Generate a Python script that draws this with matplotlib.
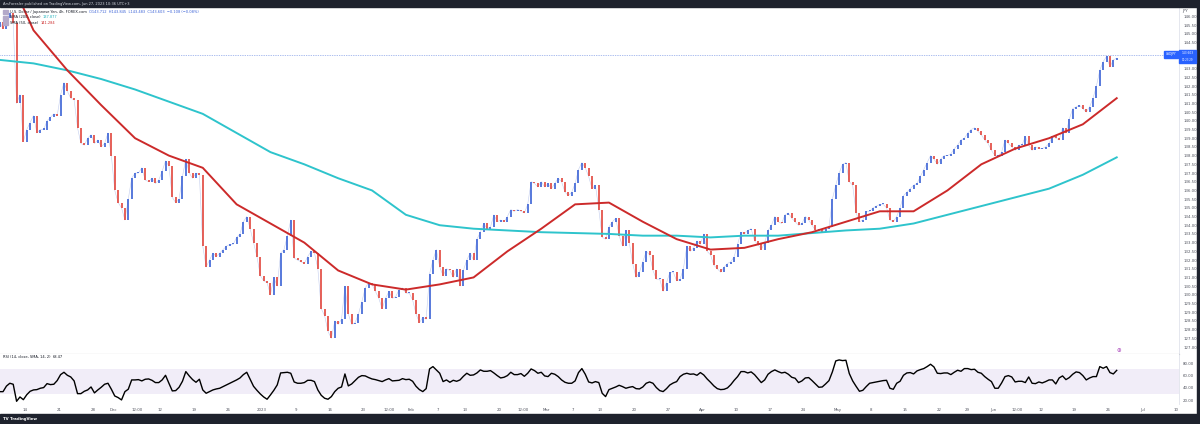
import numpy as np
import matplotlib
matplotlib.use("Agg")
import matplotlib.pyplot as plt
from matplotlib.patches import Rectangle

# USDJPY 4h, Nov 2022 - Jun 2023 at half-day steps
# (two values per trading day, first day = Nov 8 2022)
closes = [
    145.7, 145.3, 145.9, 146.2, 145.6, 141.0, 141.5, 138.8,
    139.5, 139.9, 140.3, 139.3, 139.5, 139.5, 140.0, 140.2, 140.4, 140.3,
    141.5, 142.2, 141.7, 141.3, 141.2, 139.6, 138.7, 138.6, 139.0, 139.2,
    138.7, 138.9, 138.5, 138.7, 139.3, 138.0, 136.0, 135.3, 135.0, 134.3,
    135.5, 136.7, 137.0, 137.0, 137.3, 136.6, 136.5, 136.7, 136.4, 136.6,
    137.1, 137.7, 137.4, 135.6, 135.3, 135.5, 136.8, 137.8, 137.0, 136.7,
    137.0, 136.9, 132.8, 131.6, 132.0, 132.4, 132.2, 132.4, 132.6, 132.8,
    132.9, 132.9, 133.3, 133.5, 134.2, 134.5, 133.8, 133.0, 132.2, 131.1,
    130.8, 130.7, 130.0, 131.0, 130.5, 132.4, 132.6, 133.4, 134.3, 132.1,
    132.0, 131.9, 131.8, 132.2, 132.5, 132.4, 131.5, 129.2, 128.8, 127.9,
    127.5, 128.5, 128.3, 128.6, 130.5, 128.9, 128.3, 128.4, 128.9, 129.6,
    130.4, 130.7, 130.6, 130.2, 129.8, 129.2, 129.8, 130.2, 129.8, 129.9,
    130.3, 130.4, 130.1, 130.1, 129.7, 128.9, 128.4, 128.7, 128.6, 131.2,
    132.0, 132.6, 131.6, 131.1, 131.5, 131.4, 131.0, 131.5, 130.5, 131.4,
    132.0, 132.4, 132.0, 133.2, 133.6, 134.1, 133.8, 133.9, 134.6, 134.2,
    134.3, 134.2, 134.5, 134.9, 134.8, 134.9, 134.8, 134.7, 135.2, 136.5,
    136.4, 136.2, 136.5, 136.2, 136.4, 136.1, 136.4, 136.7, 136.5, 135.9,
    135.7, 135.9, 136.4, 137.2, 137.6, 137.3, 136.8, 136.1, 136.3, 134.9,
    133.3, 133.2, 133.9, 134.2, 134.4, 133.4, 132.8, 133.7, 133.0, 131.8,
    131.0, 131.3, 131.9, 132.5, 132.3, 131.4, 130.9, 130.9, 130.2, 130.7,
    131.3, 131.3, 130.8, 130.9, 131.5, 132.8, 132.5, 132.7, 133.1, 132.9,
    133.5, 132.5, 132.3, 131.7, 131.5, 131.3, 131.6, 131.8, 131.9, 132.2,
    132.9, 133.6, 133.5, 133.7, 133.8, 133.1, 132.9, 132.6, 133.0, 133.7,
    134.0, 134.5, 134.2, 134.1, 134.6, 134.7, 134.4, 134.2, 134.0, 134.1,
    134.5, 134.3, 134.0, 133.7, 133.7, 133.6, 133.8, 133.9, 135.5, 136.3,
    137.0, 137.5, 137.6, 136.5, 136.3, 134.7, 134.2, 134.3, 134.8, 134.8,
    135.0, 135.1, 135.2, 135.2, 135.0, 134.3, 134.2, 134.5, 135.0, 135.7,
    135.9, 136.1, 136.3, 136.4, 136.8, 137.2, 137.6, 138.0, 137.8, 137.5,
    137.8, 138.0, 138.0, 138.1, 138.4, 138.6, 138.9, 139.0, 139.3, 139.5,
    139.6, 139.4, 139.2, 138.9, 138.7, 138.3, 138.0, 138.0, 138.2, 138.9,
    138.7, 138.5, 138.3, 138.6, 138.6, 139.1, 138.6, 138.3, 138.5, 138.4,
    138.4, 138.5, 138.7, 139.1, 139.0, 138.9, 139.6, 139.3, 140.1, 140.7,
    140.8, 140.9, 140.7, 140.5, 140.8, 141.3, 142.0, 142.9, 143.4, 143.7,
    143.1, 143.5, 143.6,
]
first_open = 145.4

rsi = [
    34.0, 34.0, 43.0, 47.6, 46.0, 18.4, 25.4, 21.0, 29.0, 34.6, 36.8, 37.3,
    39.5, 40.6, 47.0, 45.4, 46.0, 52.0, 61.6, 65.4, 60.5, 57.8, 51.4, 30.8,
    30.8, 34.6, 36.8, 41.6, 32.0, 36.8, 41.1, 46.0, 47.6, 37.9, 27.0, 24.4,
    20.6, 34.0, 38.0, 53.0, 53.0, 53.5, 51.4, 54.1, 54.6, 52.4, 48.7, 48.7,
    53.0, 60.5, 47.6, 35.2, 35.7, 41.1, 50.8, 66.5, 59.5, 53.5, 49.2, 54.1,
    36.8, 31.4, 34.1, 36.8, 38.4, 39.5, 42.2, 44.9, 47.6, 50.3, 53.0, 56.2,
    61.6, 65.4, 54.1, 42.7, 36.2, 30.3, 25.4, 21.7, 28.7, 36.2, 44.9, 64.3,
    64.9, 65.4, 63.8, 49.7, 47.6, 47.6, 48.7, 52.4, 52.4, 50.3, 36.8, 28.1,
    23.3, 21.7, 26.0, 34.1, 39.5, 41.6, 62.7, 43.3, 46.5, 51.9, 57.3, 60.0,
    59.5, 56.8, 54.6, 53.5, 51.9, 50.3, 53.0, 55.1, 51.4, 51.9, 52.4, 55.1,
    53.5, 54.1, 50.8, 42.7, 37.3, 34.1, 38.9, 70.8, 74.6, 69.2, 63.8, 50.3,
    53.0, 49.2, 52.4, 50.8, 53.0, 58.9, 63.8, 60.5, 61.1, 64.3, 69.2, 67.0,
    67.0, 68.1, 64.3, 60.0, 56.2, 57.3, 60.0, 65.4, 61.6, 61.6, 63.3, 58.9,
    63.8, 70.8, 68.1, 63.8, 65.4, 59.5, 58.4, 63.8, 62.2, 58.4, 53.0, 49.2,
    47.6, 47.6, 51.4, 64.9, 71.4, 62.2, 49.7, 48.1, 50.3, 48.7, 31.4, 26.0,
    37.3, 39.5, 41.6, 44.3, 42.2, 39.5, 41.1, 42.2, 38.9, 38.4, 41.6, 47.6,
    49.7, 47.6, 40.6, 35.7, 34.1, 38.9, 44.9, 48.1, 50.3, 58.4, 62.2, 63.8,
    62.2, 62.7, 60.5, 64.9, 61.1, 54.6, 49.2, 43.3, 38.9, 37.3, 37.8, 40.0,
    45.4, 52.4, 58.4, 66.5, 66.5, 64.3, 66.0, 61.6, 55.1, 48.7, 53.0, 62.2,
    66.5, 69.2, 66.5, 64.3, 65.4, 62.2, 57.3, 55.7, 48.7, 51.4, 56.2, 56.8,
    51.9, 46.5, 41.1, 41.6, 46.5, 51.9, 66.0, 83.8, 85.4, 84.3, 84.9, 63.3,
    51.4, 42.7, 34.6, 36.2, 42.2, 47.6, 48.7, 49.7, 50.8, 51.9, 52.4, 39.5,
    37.8, 47.6, 50.8, 60.5, 64.3, 64.9, 62.7, 67.6, 69.7, 71.4, 74.6, 78.4,
    74.1, 63.8, 63.3, 64.3, 64.3, 61.6, 65.4, 68.7, 67.0, 71.4, 71.4, 69.7,
    70.3, 65.4, 63.8, 58.4, 54.1, 50.3, 39.5, 39.5, 48.1, 58.4, 60.0, 57.8,
    49.7, 50.8, 50.8, 48.7, 57.8, 47.6, 47.0, 49.7, 48.1, 50.3, 53.0, 53.0,
    46.5, 56.2, 59.5, 53.5, 56.8, 62.2, 66.0, 64.9, 60.0, 53.0, 56.2, 58.4,
    58.4, 74.6, 71.9, 74.6, 64.9, 62.7, 68.5,
]

# moving averages read every 5 trading days (10 half-day steps)
ma_step = 10
sma50 = [149.5, 145.2, 142.9, 140.9, 139.0, 138.0, 137.3, 135.2, 134.1, 133.0,
         131.4, 130.6, 130.3, 130.6, 131.0, 132.5, 133.8, 135.2, 135.3, 134.2,
         133.2, 132.6, 132.7, 133.2, 133.6, 134.2, 134.8, 134.8, 136.0, 137.5,
         138.4, 139.0, 139.8, 141.3]
sma200 = [143.5, 143.3, 142.9, 142.4, 141.8, 141.1, 140.4, 139.3, 138.2, 137.5,
          136.7, 136.0, 134.6, 134.0, 133.8, 133.7, 133.6, 133.55, 133.5, 133.4,
          133.4, 133.3, 133.4, 133.4, 133.55, 133.7, 133.8, 134.1, 134.6, 135.1,
          135.6, 136.1, 136.9, 137.9]

# date axis: label text and trading-day number (0 = Mon Nov 14 2022)
date_labels = ["14", "21", "28", "Dec", "12:00", "12", "19", "26", "2023", "9",
               "16", "23", "12:00", "Feb", "7", "13", "20", "12:00", "Mar", "7",
               "13", "20", "27", "Apr", "10", "17", "24", "May", "8", "15", "22",
               "29", "Jun", "12:00", "12", "19", "26", "Jul", "10"]
date_days = [0, 5, 10, 13, 16.5, 20, 25, 30, 35, 40, 45, 50, 53.8, 57, 61, 65,
             70, 73.6, 77, 81, 85, 90, 95, 100, 105, 110, 115, 120, 125, 130,
             135, 139.2, 143, 146.5, 150, 155, 160, 165, 170]

# price scale labels (144.000 and 143.500 sit under the last-price box)
price_ticks = [p for p in np.arange(127.0, 146.01, 0.5) if p not in (143.5, 144.0)]
rsi_ticks = [20, 40, 60, 80]

W, H = 1200, 424
DARK = "#1e222d"
BLUE = "#3b62d6"
RED = "#e2453c"
TXT = "#131722"
FS = 2.6

fig = plt.figure(figsize=(W / 100, H / 100), dpi=100)
fig.patch.set_facecolor("white")


def fx(px):
    return px / W


def fy(py):
    return 1 - py / H


ax = fig.add_axes([0, fy(354), fx(1179), 347 / H])
ax_r = fig.add_axes([0, fy(404), fx(1179), 50 / H], sharex=ax)

k = np.arange(len(closes))
c = np.array(closes)
o = np.concatenate([[first_open], c[:-1]])
up = c >= o
lo = np.minimum(o, c)
hi = np.maximum(np.maximum(o, c), lo + 0.06)
col = np.where(up, BLUE, RED)
# faint path between candles, stands in for the wicks
ax.plot(k, c, color="#a9b8e6", lw=0.4, alpha=0.7, zorder=1)
ax.vlines(k, lo, hi, colors=col, lw=1.2, zorder=2)

km = np.arange(len(sma50)) * ma_step
ax.plot(km, sma200, color="#2ec4cc", lw=1.4, zorder=3)
ax.plot(km, sma50, color="#cc2a2a", lw=1.4, zorder=3)

ax.axhline(c[-1] + 0.2, color="#5b7fe0", lw=0.5, ls=(0, (1, 1.5)), zorder=1)

ax.set_xlim(0.1, 1179 / 3.385 + 0.1)
ax.set_ylim(126.6, 146.54)
ax.yaxis.tick_right()
ax.set_yticks(price_ticks)
ax.set_yticklabels([f"{p:.3f}" for p in price_ticks])
ax.tick_params(axis="y", length=0, labelsize=2.8, labelcolor="#50535e", pad=3)
ax.tick_params(axis="x", length=0, labelbottom=False)
for s in ["top", "left"]:
    ax.spines[s].set_visible(False)
ax.spines["right"].set_color("#e0e3eb")
ax.spines["right"].set_linewidth(0.6)
ax.spines["bottom"].set_color("#9598a1")
ax.spines["bottom"].set_linewidth(0.8)

# RSI pane
ax_r.axhspan(30, 70, color="#7e57c2", alpha=0.1, lw=0)
ax_r.plot(k, rsi, color="black", lw=1.0)
ax_r.set_ylim(14, 95)
ax_r.yaxis.tick_right()
ax_r.set_yticks(rsi_ticks)
ax_r.set_yticklabels([f"{v:.2f}" for v in rsi_ticks])
ax_r.tick_params(axis="y", length=0, labelsize=2.8, labelcolor="#50535e", pad=3)
ax_r.set_xticks([2 * (d + 4) - 0.5 for d in date_days])
ax_r.set_xticklabels(date_labels)
ax_r.tick_params(axis="x", length=0, labelsize=2.8, labelcolor="#50535e", pad=3)
for s in ["top", "left", "bottom"]:
    ax_r.spines[s].set_visible(False)
ax_r.spines["right"].set_color("#e0e3eb")
ax_r.spines["right"].set_linewidth(0.6)

# frame: top and bottom dark bars, right border
fig.add_artist(Rectangle((0, fy(7)), 1, 7 / H, transform=fig.transFigure,
                         color=DARK, zorder=10))
fig.add_artist(Rectangle((0, 0), 1, 10 / H, transform=fig.transFigure,
                         color=DARK, zorder=10))
fig.add_artist(Rectangle((fx(1197), 0), 3 / W, 1, transform=fig.transFigure,
                         color=DARK, zorder=10))
fig.text(fx(3), fy(3.8), "ArsForesler published on TradingView.com, Jun 27, 2023 10:36 UTC+3",
         fontsize=FS, color="#d1d4dc", va="center", zorder=11)
fig.text(fx(3), fy(419), "TV TradingView", fontsize=2.8, color="white",
         va="center", weight="bold", zorder=11)


def label_value(host, x, y, label, value, vcolor):
    t = fig.text(fx(x), fy(y), label, fontsize=FS, color=TXT, va="center", zorder=11)
    host.annotate(value, xy=(1, 0.5), xycoords=t, xytext=(1.5, 0),
                  textcoords="offset points", fontsize=FS, color=vcolor,
                  va="center", annotation_clip=False, zorder=11)


# legend text top-left
label_value(ax, 10, 12, "U.S. Dollar / Japanese Yen, 4h, FOREX.com",
            "O143.712  H143.845  L143.483  C143.603  \u22120.108 (\u22120.08%)", BLUE)
label_value(ax, 10, 17.5, "SMA (200, close)", "137.877", "#22b3bd")
label_value(ax, 10, 23, "SMA (50, close)", "141.284", "#cc2a2a")
for yy in (12, 17.5, 23):
    fig.add_artist(Rectangle((fx(3), fy(yy + 2)), 5 / W, 4 / H, transform=fig.transFigure,
                             color="#b3a9c9", zorder=11))
label_value(ax_r, 3, 357.5, "RSI (14, close, SMA, 14, 2)", "68.47", TXT)

# axis unit and last-price boxes
fig.text(fx(1182), fy(11), "JPY", fontsize=2.8, color="#50535e", va="center", zorder=11)
fig.add_artist(Rectangle((fx(1164), fy(57.5)), 14 / W, 6 / H, transform=fig.transFigure,
                         color="#2962ff", zorder=11))
fig.text(fx(1171), fy(54.5), "USDJPY", fontsize=2.2, color="white", ha="center",
         va="center", zorder=12)
fig.add_artist(Rectangle((fx(1179), fy(63)), 17 / W, 13 / H, transform=fig.transFigure,
                         color="#2962ff", zorder=11))
fig.text(fx(1187.5), fy(53.0), "143.603", fontsize=2.1, color="white", ha="center",
         va="center", zorder=12)
fig.text(fx(1187.5), fy(59.8), "00:23:29", fontsize=1.9, color="white", ha="center",
         va="center", zorder=12)
fig.text(fx(1119), fy(350), "\u2295", fontsize=4, color="#ab47bc", ha="center",
         va="center", zorder=12)

fig.savefig("out.png", dpi=100)
